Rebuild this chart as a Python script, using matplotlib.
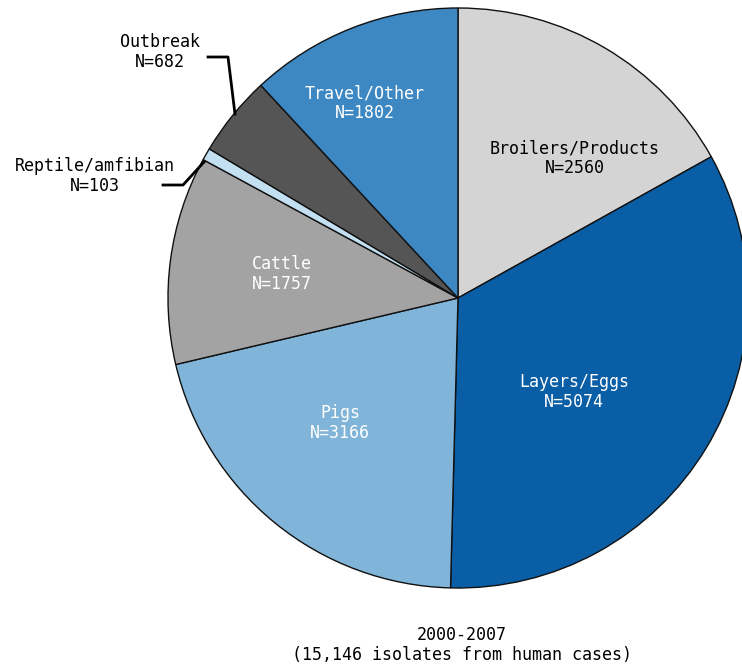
import matplotlib.pyplot as plt

# Salmonella sources, 2000-2007
sources = ['Broilers/Products', 'Layers/Eggs', 'Pigs', 'Cattle',
           'Reptile/amfibian', 'Outbreak', 'Travel/Other']
counts = [2560, 5074, 3166, 1757, 103, 682, 1802]
colors = ['#d4d4d4', '#0a5ea6', '#80b4d9', '#a3a3a3',
          '#c3dff2', '#555555', '#3d87c2']

plt.rcParams['font.family'] = ['DejaVu Sans Mono']

fig = plt.figure(figsize=(7.42, 6.70), dpi=100)
ax = fig.add_axes([0, 0, 1, 1])
ax.set_xlim(0, 742)
ax.set_ylim(0, 670)
ax.axis('off')

cx, cy, r = 458, 372, 290
wedges, _ = ax.pie(counts, colors=colors, startangle=90, counterclock=False,
                   center=(cx, cy), radius=r, frame=True,
                   wedgeprops=dict(edgecolor='#111111', linewidth=1.0))
ax.set_xlim(0, 742)
ax.set_ylim(0, 670)
ax.set_aspect('equal')
ax.axis('off')

# inside labels (pixel positions measured from the top)
inside = {
    'Broilers/Products': (575, 158, 'black'),
    'Layers/Eggs': (574, 392, 'white'),
    'Pigs': (340, 423, 'white'),
    'Cattle': (282, 274, 'white'),
    'Travel/Other': (365, 103, 'white'),
}
for name, n in zip(sources, counts):
    if name in inside:
        x, y, c = inside[name]
        ax.text(x, 670 - y, f'{name}\nN={n}', ha='center', va='center',
                color=c, fontsize=12, linespacing=1.1)

# outside labels with leader lines
ax.text(160, 670 - 52, f'Outbreak\nN={counts[5]}', ha='center', va='center',
        fontsize=12, linespacing=1.1)
ax.plot([208, 228, 235], [670 - 57, 670 - 57, 670 - 114], color='black', lw=2)

ax.text(95, 670 - 176, f'Reptile/amfibian\nN={counts[4]}', ha='center',
        va='center', fontsize=12, linespacing=1.1)
ax.plot([163, 183, 204], [670 - 185, 670 - 185, 670 - 162], color='black', lw=2)

ax.text(462, 670 - 645, '2000-2007\n(15,146 isolates from human cases)',
        ha='center', va='center', fontsize=12, linespacing=1.1)

fig.savefig('out.png', dpi=100)
